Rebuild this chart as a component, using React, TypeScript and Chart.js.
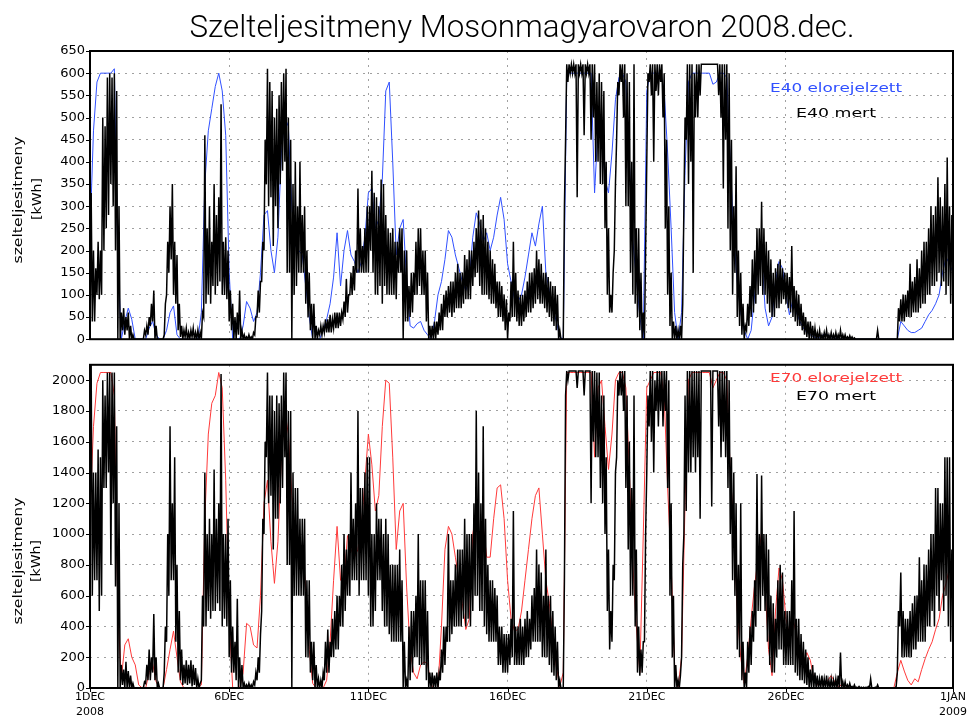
import { useEffect, useRef } from 'react';
import { Chart, registerables } from 'chart.js';

Chart.register(...registerables);

// Time axis: hours since 1 Dec 2008 00:00.
// Forecasts are 3-hourly. Measurements fluctuate quickly, so they are kept as the
// low / high edge of the trace in each 2-hour slot and drawn as an hourly zig-zag.
const FORECAST_STEP_H = 3;
const MEASURED_SLOT_H = 2;
const PERIOD_H = 744;

const dayTickHours = [0, 120, 240, 360, 480, 600, 744];
const dayTickLabels: (string | string[])[] = [
  ['1DEC', '2008'], '6DEC', '11DEC', '16DEC', '21DEC', '26DEC', ['1JAN', '2009'],
];

const titleText = 'Szelteljesitmeny Mosonmagyarovaron 2008.dec.';
const yAxisTitle = ['szelteljesitmeny', '[kWh]'];
const e40Legend = ['E40 elorejelzett', 'E40 mert'];
const e70Legend = ['E70 elorejelzett', 'E70 mert'];

const e40Max = 650;
const e40Step = 50;
const e70Max = 2100;
const e70Step = 200;

// E40 forecast, kWh, one row per day (00,03,...,21h)
const e40Forecast = [
  235, 470, 580, 600, 600, 600, 600, 610,
  180, 0, 40, 70, 45, 0, 0, 0,
  0, 25, 40, 10, 0, 0, 20, 60,
  75, 10, 0, 0, 0, 0, 0, 0,
  60, 350, 470, 520, 570, 600, 560, 460,
  150, 0, 0, 0, 30, 85, 70, 40,
  60, 150, 280, 290, 200, 150, 230, 420,
  500, 480, 300, 210, 200, 190, 120, 50,
  0, 0, 0, 20, 45, 80, 140, 240,
  120, 200, 245, 190, 175, 150, 175, 230,
  330, 340, 250, 270, 360, 560, 580, 400,
  190, 250, 270, 130, 30, 25, 35, 40,
  20, 10, 0, 40, 100, 130, 180, 245,
  230, 190, 160, 130, 110, 135, 230, 285,
  260, 220, 240, 200, 230, 280, 320, 270,
  170, 130, 90, 85, 100, 140, 190, 240,
  210, 260, 300, 150, 110, 70, 40, 5,
  0, 600, 600, 600, 600, 600, 600, 600,
  600, 330, 480, 470, 360, 330, 420, 540,
  590, 600, 580, 400, 220, 140, 50, 0,
  560, 600, 600, 600, 600, 560, 420, 250,
  60, 0, 60, 380, 580, 600, 600, 600,
  600, 600, 600, 575, 580, 600, 600, 590,
  400, 230, 130, 60, 20, 0, 20, 100,
  180, 200, 70, 30, 50, 130, 175, 160,
  100, 55, 90, 60, 40, 25, 15, 10,
  5, 3, 5, 12, 10, 5, 3, 0,
  0, 0, 0, 0, 0, 0, 0, 0,
  0, 0, 0, 0, 0, 0, 0, 0,
  0, 40, 30, 20, 15, 15, 20, 25,
  40, 55, 65, 80, 100, 150, 185, 170,
  150,
];

// E40 measured, kWh, lower edge per 2-hour slot, one row per day
const e40MeasuredLow = [
  0, 40, 40, 100, 90, 100, 200, 250, 280, 350, 300, 200,
  0, 0, 20, 10, 20, 0, 0, 0, 0, 0, 0, 0,
  10, 10, 30, 40, 0, 0, 0, 0, 10, 100, 150, 180,
  100, 80, 20, 5, 0, 5, 0, 0, 5, 0, 0, 0,
  0, 50, 80, 100, 80, 120, 100, 120, 130, 100, 100, 90,
  40, 20, 0, 0, 10, 0, 0, 0, 0, 0, 0, 10,
  50, 60, 130, 200, 350, 300, 320, 210, 300, 250, 350, 380,
  400, 150, 150, 0, 100, 120, 150, 150, 150, 80, 50, 20,
  0, 0, 0, 10, 10, 15, 15, 15, 15, 25, 25, 25,
  30, 45, 50, 60, 100, 100, 110, 150, 150, 150, 150, 150,
  150, 200, 150, 100, 100, 120, 80, 120, 100, 100, 100, 100,
  90, 150, 150, 0, 40, 40, 50, 60, 100, 100, 120, 100,
  100, 40, 0, 0, 0, 0, 10, 20, 20, 50, 50, 60,
  50, 60, 70, 70, 70, 80, 90, 90, 90, 120, 140, 150,
  120, 100, 100, 100, 90, 80, 80, 70, 50, 50, 40, 20,
  0, 40, 50, 50, 40, 30, 30, 40, 50, 60, 60, 70,
  80, 90, 80, 80, 70, 60, 50, 40, 30, 20, 0, 0,
  0, 450, 580, 600, 600, 600, 320, 600, 600, 460, 600, 600,
  450, 500, 400, 400, 350, 350, 250, 100, 60, 60, 200, 450,
  550, 580, 500, 300, 300, 150, 100, 80, 50, 20, 0, 0,
  400, 580, 550, 400, 560, 550, 580, 500, 250, 100, 30, 0,
  0, 0, 0, 0, 300, 450, 350, 400, 150, 500, 500, 550,
  620, 620, 620, 620, 620, 620, 620, 550, 500, 340, 450, 250,
  200, 100, 150, 50, 30, 10, 0, 20, 30, 50, 60, 80,
  100, 120, 100, 100, 80, 60, 50, 50, 70, 70, 80, 90,
  80, 70, 60, 50, 40, 30, 30, 20, 10, 5, 0, 0,
  0, 0, 0, 0, 0, 0, 0, 0, 0, 0, 0, 0,
  0, 0, 0, 0, 0, 0, 0, 0, 0, 0, 0, 0,
  0, 0, 0, 0, 0, 0, 0, 0, 0, 0, 0, 0,
  0, 40, 40, 40, 50, 50, 50, 60, 60, 60, 70, 80,
  80, 100, 100, 120, 120, 130, 150, 120, 130, 100, 120, 80,
];

// E40 measured, kWh, upper edge per 2-hour slot, one row per day
const e40MeasuredHigh = [
  330, 200, 160, 220, 200, 500, 480, 590, 600, 590, 600, 560,
  300, 60, 70, 50, 60, 30, 10, 0, 0, 0, 0, 20,
  30, 50, 80, 110, 30, 0, 0, 0, 80, 220, 300, 350,
  220, 190, 80, 30, 20, 25, 15, 20, 25, 15, 20, 15,
  60, 460, 250, 300, 220, 350, 280, 320, 530, 220, 230, 200,
  110, 80, 50, 60, 110, 20, 10, 5, 10, 5, 15, 50,
  110, 130, 220, 450, 610, 580, 560, 500, 520, 550, 580, 600,
  610, 500, 450, 350, 400, 300, 400, 280, 300, 200, 150, 80,
  80, 30, 20, 30, 30, 45, 45, 55, 45, 60, 60, 60,
  60, 85, 136, 100, 150, 165, 200, 340, 250, 210, 250, 300,
  300, 380, 330, 320, 300, 360, 350, 280, 250, 240, 250, 220,
  220, 250, 250, 200, 200, 120, 150, 150, 220, 250, 250, 200,
  200, 150, 30, 30, 40, 40, 60, 80, 100, 110, 120, 130,
  130, 150, 170, 150, 150, 190, 180, 200, 200, 220, 250, 290,
  270, 280, 250, 220, 200, 180, 170, 130, 130, 120, 100, 90,
  60, 130, 220, 150, 110, 100, 100, 110, 130, 150, 150, 160,
  200, 180, 170, 150, 150, 140, 130, 120, 120, 100, 20, 0,
  300, 620, 620, 620, 620, 620, 620, 620, 620, 620, 620, 620,
  620, 620, 580, 600, 580, 560, 400, 250, 100, 150, 350, 580,
  620, 620, 620, 600, 580, 400, 620, 250, 250, 150, 60, 200,
  600, 620, 620, 620, 620, 620, 620, 600, 450, 300, 150, 40,
  30, 20, 30, 80, 500, 620, 620, 620, 600, 620, 620, 620,
  620, 620, 620, 620, 620, 620, 620, 620, 620, 620, 620, 600,
  450, 300, 390, 200, 150, 80, 30, 80, 120, 180, 200, 250,
  250, 310, 250, 220, 200, 180, 150, 160, 170, 180, 160, 150,
  150, 140, 210, 120, 110, 100, 80, 60, 50, 40, 40, 30,
  25, 15, 20, 10, 15, 20, 10, 15, 10, 15, 10, 20,
  10, 10, 5, 8, 5, 3, 0, 0, 0, 0, 0, 0,
  0, 0, 0, 20, 0, 0, 0, 0, 0, 0, 0, 0,
  70, 90, 100, 100, 110, 170, 130, 140, 180, 160, 200, 220,
  220, 250, 300, 280, 300, 365, 320, 300, 350, 410, 300, 280,
];

// E70 forecast, kWh, one row per day (00,03,...,21h)
const e70Forecast = [
  1130, 1700, 1980, 2050, 2050, 2050, 2050, 1900,
  500, 60, 280, 320, 200, 150, 20, 0,
  0, 100, 160, 40, 0, 0, 120, 250,
  370, 200, 40, 0, 0, 0, 0, 0,
  20, 1100, 1650, 1850, 1900, 2050, 1950, 1350,
  450, 0, 0, 0, 100, 420, 400, 280,
  260, 600, 1200, 1350, 950, 680, 950, 1500,
  1800, 1650, 1250, 1000, 950, 900, 650, 250,
  30, 0, 0, 0, 50, 300, 700, 1050,
  700, 700, 990, 900, 850, 900, 1050, 1350,
  1650, 1450, 1150, 1250, 1700, 2000, 1980, 1500,
  900, 1150, 1200, 650, 250, 100, 60, 150,
  170, 160, 20, 0, 0, 400, 900, 1050,
  1000, 850, 700, 550, 380, 450, 1000, 1150,
  950, 1050, 850, 850, 1100, 1300, 1320, 1100,
  700, 450, 370, 380, 500, 700, 900, 1100,
  1250, 1300, 1000, 700, 550, 330, 140, 10,
  100, 2050, 2050, 2050, 2050, 2050, 2050, 2050,
  2050, 1500, 1950, 2000, 1700, 1420, 1650, 2000,
  2050, 2050, 1950, 1400, 800, 400, 100, 1000,
  1950, 2000, 2050, 2050, 2050, 1900, 1300, 800,
  150, 0, 200, 1200, 2000, 2050, 2050, 2050,
  2050, 2050, 2050, 1950, 2000, 2050, 2050, 2000,
  1400, 1050, 500, 200, 30, 200, 450, 670,
  840, 1010, 650, 250, 80, 500, 780, 700,
  450, 350, 450, 350, 160, 160, 230, 180,
  60, 20, 30, 20, 50, 80, 40, 10,
  20, 5, 0, 0, 0, 0, 0, 0,
  0, 0, 0, 0, 0, 0, 0, 0,
  100, 180, 110, 50, 20, 60, 40, 120,
  190, 250, 300, 380, 450, 600, 680, 780,
  750,
];

// E70 measured, kWh, lower edge per 2-hour slot, one row per day
const e70MeasuredLow = [
  1000, 600, 700, 700, 500, 600, 1300, 1300, 1400, 800, 1200, 660,
  0, 0, 20, 0, 0, 0, 0, 0, 0, 0, 0, 0,
  30, 50, 50, 100, 50, 0, 0, 0, 100, 300, 600, 700,
  700, 300, 100, 50, 20, 30, 20, 30, 10, 20, 0, 0,
  50, 400, 400, 500, 450, 500, 500, 550, 500, 400, 450, 400,
  200, 100, 100, 50, 0, 0, 0, 0, 0, 0, 0, 20,
  50, 100, 500, 1000, 1500, 1200, 1250, 900, 1100, 1100, 1200, 1300,
  1500, 800, 800, 0, 600, 600, 600, 600, 600, 200, 200, 100,
  50, 0, 0, 0, 0, 50, 100, 100, 200, 200, 250, 250,
  400, 400, 500, 600, 600, 700, 700, 700, 600, 700, 700, 700,
  600, 400, 400, 500, 700, 700, 500, 400, 400, 350, 300, 300,
  300, 300, 300, 0, 0, 0, 50, 100, 200, 200, 150, 150,
  150, 50, 0, 0, 0, 0, 0, 50, 100, 150, 300, 300,
  350, 400, 400, 400, 400, 450, 400, 450, 400, 500, 600, 600,
  500, 500, 400, 350, 300, 300, 300, 300, 150, 150, 100, 100,
  100, 150, 200, 150, 150, 150, 150, 150, 200, 200, 250, 300,
  300, 300, 300, 200, 200, 200, 150, 100, 80, 50, 0, 0,
  0, 1900, 2000, 2060, 2060, 2060, 1950, 2060, 2060, 1900, 2060, 2060,
  1200, 1600, 1500, 1500, 1300, 1200, 1000, 500, 250, 300, 700, 1500,
  1900, 1900, 1800, 1300, 900, 600, 600, 400, 100, 80, 100, 300,
  1400, 1700, 1600, 1400, 1800, 1700, 1800, 1700, 1800, 1300, 600, 200,
  0, 0, 0, 200, 1000, 1150, 1400, 1400, 1500, 1400, 1500, 1100,
  2060, 2060, 2060, 2060, 1180, 2060, 2060, 1700, 1500, 1600, 1500, 1300,
  1000, 700, 600, 250, 200, 50, 0, 0, 100, 150, 300, 400,
  500, 500, 600, 500, 300, 150, 100, 100, 200, 250, 250, 150,
  150, 150, 150, 150, 100, 80, 50, 50, 30, 20, 0, 0,
  0, 0, 0, 0, 0, 0, 0, 0, 0, 0, 0, 0,
  0, 0, 0, 0, 0, 0, 0, 0, 0, 0, 0, 0,
  0, 0, 0, 0, 0, 0, 0, 0, 0, 0, 0, 0,
  100, 400, 200, 200, 200, 200, 200, 250, 250, 300, 300, 300,
  300, 400, 400, 500, 400, 600, 500, 700, 500, 600, 400, 300,
];

// E70 measured, kWh, upper edge per 2-hour slot, one row per day
const e70MeasuredHigh = [
  2100, 1400, 1400, 1550, 1500, 2000, 1900, 2050, 2050, 2050, 2050, 1700,
  1200, 150, 120, 170, 110, 80, 30, 0, 0, 0, 0, 40,
  150, 250, 200, 480, 200, 30, 0, 0, 400, 1000, 1700, 1200,
  1500, 800, 500, 250, 150, 180, 150, 180, 150, 130, 60, 30,
  600, 1400, 1000, 1100, 1000, 1420, 1100, 1200, 2040, 1000, 1000, 1100,
  700, 400, 300, 580, 200, 150, 30, 20, 30, 20, 40, 100,
  200, 350, 1100, 1600, 2050, 1900, 1900, 1800, 1900, 1850, 1900, 2050,
  2050, 1800, 1800, 1400, 1300, 1300, 1100, 1100, 1100, 700, 700, 300,
  300, 150, 60, 50, 100, 300, 380, 300, 450, 500, 600, 600,
  800, 1000, 900, 1000, 1400, 1100, 1200, 1800, 1300, 1300, 1400, 1500,
  1500, 1000, 1000, 1200, 1100, 1100, 1000, 1100, 1000, 800, 800, 800,
  800, 900, 700, 300, 50, 400, 500, 500, 600, 1000, 700, 700,
  700, 500, 100, 100, 80, 100, 100, 250, 400, 400, 1000, 700,
  700, 800, 900, 900, 900, 1100, 1000, 1000, 1000, 1200, 1800, 1400,
  1200, 1700, 1100, 800, 700, 700, 650, 600, 400, 400, 350, 350,
  350, 450, 1150, 400, 400, 450, 400, 450, 500, 450, 600, 650,
  900, 800, 750, 600, 900, 600, 600, 500, 400, 300, 50, 0,
  700, 2060, 2060, 2060, 2060, 2060, 2060, 2060, 2060, 2060, 2060, 2060,
  2060, 2060, 2050, 2050, 1900, 1900, 1500, 900, 500, 800, 1400, 2000,
  2060, 2060, 2060, 1900, 1600, 1300, 1900, 900, 400, 250, 300, 1000,
  1900, 2060, 2060, 2000, 2060, 2060, 2060, 2060, 2060, 2000, 1200, 600,
  150, 50, 80, 800, 1900, 2060, 2060, 2060, 2060, 2060, 2060, 2060,
  2060, 2060, 2060, 2060, 2060, 2060, 2060, 2060, 2060, 2060, 2060, 2000,
  1500, 1400, 1200, 800, 1200, 300, 100, 300, 400, 500, 700, 1390,
  1000, 1380, 1000, 1000, 900, 600, 550, 450, 700, 800, 750, 500,
  500, 500, 700, 1150, 450, 450, 350, 300, 250, 200, 120, 150,
  100, 80, 60, 80, 60, 80, 50, 60, 50, 60, 80, 230,
  40, 40, 20, 30, 10, 20, 5, 10, 5, 5, 5, 10,
  60, 0, 5, 20, 0, 0, 0, 0, 0, 0, 0, 10,
  500, 750, 500, 450, 450, 500, 550, 600, 600, 850, 700, 800,
  800, 900, 1000, 1000, 1300, 1300, 1200, 1200, 1500, 1500, 1500, 900,
];

const BLUE = '#3050ff';
const RED = '#ff3a3a';
const GRID = '#a0a0a0';
const TICK_FONT_FAMILY = "'DejaVu Sans', sans-serif";
const TEXT_FONT = "13px 'DejaVu Sans', sans-serif";
const TITLE_FONT = "300 32px Roboto, 'DejaVu Sans', sans-serif";

const toPoints = (values: number[], stepH: number) =>
  values.map((v, i) => ({ x: i * stepH, y: v }));

// Low edge at the start of each slot, high edge one hour later.
const toBandPoints = (low: number[], high: number[]) =>
  low.flatMap((v, i) => [
    { x: i * MEASURED_SLOT_H, y: v },
    { x: i * MEASURED_SLOT_H + 1, y: high[i] },
  ]);

type Label = {
  text: string; x: number; y: number; width: number;
  font: string; color: string; rotate?: boolean; baseline?: CanvasTextBaseline;
};

function drawFittedText(ctx: CanvasRenderingContext2D, l: Label) {
  ctx.save();
  ctx.font = l.font;
  ctx.fillStyle = l.color;
  ctx.textAlign = 'center';
  ctx.textBaseline = l.baseline ?? 'middle';
  const w = ctx.measureText(l.text).width || 1;
  ctx.translate(l.x, l.y);
  if (l.rotate) ctx.rotate(-Math.PI / 2);
  ctx.scale(l.width / w, 1);
  ctx.fillText(l.text, 0, 0);
  ctx.restore();
}

function panelDecor(labels: Label[], bottomTicks: boolean) {
  return {
    id: 'panelDecor',
    afterDatasetsDraw(chart: Chart) {
      const { ctx, chartArea: a, scales } = chart;
      ctx.save();
      ctx.strokeStyle = '#000';
      ctx.lineWidth = 1;
      ctx.beginPath();
      for (const t of scales.y.ticks) {
        const py = Math.round(scales.y.getPixelForValue(t.value)) + 0.5;
        ctx.moveTo(a.left - 4, py);
        ctx.lineTo(a.left, py);
      }
      if (bottomTicks) {
        for (const h of dayTickHours) {
          const px = Math.round(scales.x.getPixelForValue(h)) + 0.5;
          ctx.moveTo(px, a.bottom);
          ctx.lineTo(px, a.bottom + 4);
        }
      }
      ctx.stroke();
      ctx.lineWidth = 2;
      ctx.strokeRect(a.left, a.top, a.right - a.left, a.bottom - a.top);
      ctx.restore();
    },
    afterDraw(chart: Chart) {
      for (const l of labels) drawFittedText(chart.ctx, l);
    },
  };
}

function panelConfig(opts: {
  forecast: number[]; measuredLow: number[]; measuredHigh: number[]; color: string;
  yMax: number; yStep: number; showDates: boolean;
  padTop: number; padBottom: number; xHeight: number;
  labels: Label[];
}): any {
  return {
    type: 'line',
    data: {
      datasets: [
        {
          data: toBandPoints(opts.measuredLow, opts.measuredHigh),
          borderColor: '#000', borderWidth: 1.5, pointRadius: 0, tension: 0, order: 0,
        },
        {
          data: toPoints(opts.forecast, FORECAST_STEP_H),
          borderColor: opts.color, borderWidth: 1, pointRadius: 0, tension: 0, order: 1,
        },
      ],
    },
    options: {
      responsive: false,
      animation: false,
      events: [],
      parsing: false,
      normalized: true,
      layout: { padding: { left: 0, right: 16, top: opts.padTop, bottom: opts.padBottom } },
      plugins: { legend: { display: false }, tooltip: { enabled: false }, title: { display: false } },
      scales: {
        x: {
          type: 'linear', min: 0, max: PERIOD_H,
          afterBuildTicks: (s: any) => { s.ticks = dayTickHours.map((value) => ({ value })); },
          afterFit: (s: any) => { s.height = opts.xHeight; },
          ticks: {
            display: opts.showDates, autoSkip: false, maxRotation: 0, padding: 2,
            color: '#000', font: { family: TICK_FONT_FAMILY, size: 11, lineHeight: 1.36 },
            callback: (_v: any, i: number) => dayTickLabels[i],
          },
          grid: { color: GRID, lineWidth: 1, drawTicks: false },
          border: { display: false, dash: [2, 5] },
        },
        y: {
          min: 0, max: opts.yMax,
          afterFit: (s: any) => { s.width = 90; },
          ticks: {
            stepSize: opts.yStep, includeBounds: false, padding: 5,
            color: '#000', font: { family: TICK_FONT_FAMILY, size: 13 },
            callback: (v: any) => String(v),
          },
          grid: { color: GRID, lineWidth: 1, drawTicks: false },
          border: { display: false, dash: [2, 5] },
        },
      },
    },
    plugins: [panelDecor(opts.labels, opts.showDates)],
  };
}

const TOP_H = 352;
const BOTTOM_H = 366;

export default function App() {
  const topRef = useRef<HTMLCanvasElement>(null);
  const bottomRef = useRef<HTMLCanvasElement>(null);

  useEffect(() => {
    const topLabels: Label[] = [
      { text: titleText, x: 522, y: 37, width: 665, font: TITLE_FONT, color: '#000', baseline: 'alphabetic' },
      { text: e40Legend[0], x: 836, y: 89, width: 132, font: TEXT_FONT, color: BLUE },
      { text: e40Legend[1], x: 836, y: 114, width: 80, font: TEXT_FONT, color: '#000' },
      { text: yAxisTitle[0], x: 19, y: 200, width: 127, font: TEXT_FONT, color: '#000', rotate: true },
      { text: yAxisTitle[1], x: 38, y: 199, width: 42, font: TEXT_FONT, color: '#000', rotate: true },
    ];
    const bottomLabels: Label[] = [
      { text: e70Legend[0], x: 836, y: 27, width: 132, font: TEXT_FONT, color: RED },
      { text: e70Legend[1], x: 836, y: 45, width: 80, font: TEXT_FONT, color: '#000' },
      { text: yAxisTitle[0], x: 19, y: 209, width: 127, font: TEXT_FONT, color: '#000', rotate: true },
      { text: yAxisTitle[1], x: 37, y: 209, width: 42, font: TEXT_FONT, color: '#000', rotate: true },
    ];

    const top = new Chart(topRef.current!, panelConfig({
      forecast: e40Forecast, measuredLow: e40MeasuredLow, measuredHigh: e40MeasuredHigh, color: BLUE,
      yMax: e40Max, yStep: e40Step, showDates: false,
      padTop: 51, padBottom: 5, xHeight: 0, labels: topLabels,
    }));
    const bottom = new Chart(bottomRef.current!, panelConfig({
      forecast: e70Forecast, measuredLow: e70MeasuredLow, measuredHigh: e70MeasuredHigh, color: RED,
      yMax: e70Max, yStep: e70Step, showDates: true,
      padTop: 6, padBottom: 0, xHeight: 30, labels: bottomLabels,
    }));
    return () => { top.destroy(); bottom.destroy(); };
  }, []);

  return (
    <div style={{ position: 'absolute', left: 0, top: 0, width: 969, height: 718, background: '#fff', overflow: 'hidden' }}>
      <canvas ref={topRef} width={969} height={TOP_H}
        style={{ position: 'absolute', left: 0, top: 0, width: 969, height: TOP_H, display: 'block' }} />
      <canvas ref={bottomRef} width={969} height={BOTTOM_H}
        style={{ position: 'absolute', left: 0, top: TOP_H, width: 969, height: BOTTOM_H, display: 'block' }} />
    </div>
  );
}
